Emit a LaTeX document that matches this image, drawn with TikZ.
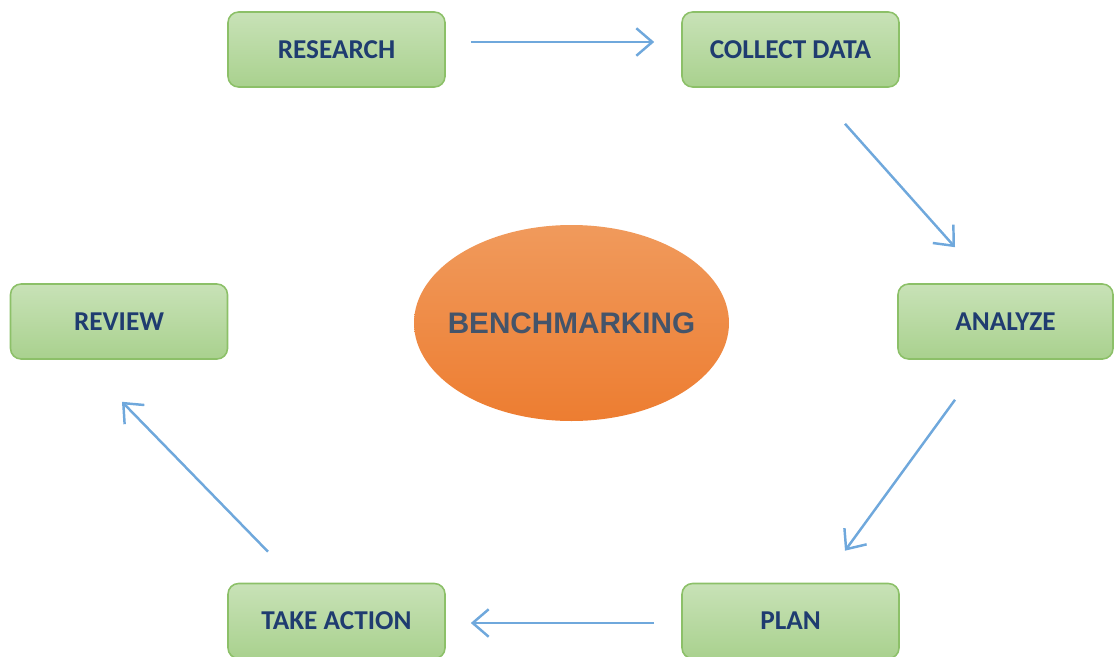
\documentclass[tikz,border=0pt]{standalone}
\usepackage{fontspec}
\usetikzlibrary{shapes.geometric,arrows.meta}
\newfontfamily\boxfont{Carlito}
\newfontfamily\hubfont{Liberation Sans}
\definecolor{bmgreentop}{HTML}{C8E2B7}
\definecolor{bmgreenbot}{HTML}{A9D18E}
\definecolor{bmgreenline}{HTML}{8CC068}
\definecolor{bmtext}{HTML}{1F3C70}
\definecolor{bmorangetop}{HTML}{F09A5C}
\definecolor{bmorangebot}{HTML}{ED7D31}
\definecolor{bmhubtext}{HTML}{44546A}
\definecolor{bmarrow}{HTML}{6FA8DC}

\begin{document}
\begin{tikzpicture}[
    stagebox/.style={rectangle, draw=bmgreenline, line width=0.9pt, top color=bmgreentop, bottom color=bmgreenbot,
        rounded corners=6pt, minimum width=4.34cm, minimum height=1.5cm,
        text=bmtext, font=\boxfont\fontsize{15.5}{18}\selectfont\bfseries},
    flow/.style={-{Straight Barb[length=3.2mm,width=5.5mm,line width=1.4pt]}, line width=1.4pt, bmarrow}
]
    \useasboundingbox (0,0) rectangle (22.28,13.12);

    % Centre
    \node[ellipse, inner sep=0pt, top color=bmorangetop, bottom color=bmorangebot, minimum width=6.3cm, minimum height=3.92cm,
        text=bmhubtext, font=\hubfont\fontsize{16.9}{20}\selectfont\bfseries] (bench) at (11.43,6.66)
        {\makebox[3cm]{BENCHMARKING}};

    % Stages
    \node[stagebox] (research) at (6.73,12.13) {RESEARCH};
    \node[stagebox] (collect) at (15.81,12.13) {COLLECT DATA};
    \node[stagebox, minimum width=4.3cm] (analyze) at (20.11,6.69) {ANALYZE};
    \node[stagebox] (plan) at (15.81,0.70) {PLAN};
    \node[stagebox] (action) at (6.73,0.70) {TAKE ACTION};
    \node[stagebox] (review) at (2.38,6.69) {REVIEW};

    % Cycle
    \draw[flow] ([xshift=0.5cm,yshift=0.15cm]research.east) -- ([xshift=-0.54cm,yshift=0.15cm]collect.west);
    \draw[flow] ([xshift=1.09cm,yshift=-0.72cm]collect.south) -- ([xshift=-1.01cm,yshift=0.72cm]analyze.north);
    \draw[flow] ([xshift=-1.01cm,yshift=-0.8cm]analyze.south) -- ([xshift=1.09cm,yshift=0.64cm]plan.north);
    \draw[flow] ([xshift=-0.54cm,yshift=-0.04cm]plan.west) -- ([xshift=0.5cm,yshift=-0.04cm]action.east);
    \draw[flow] ([xshift=-1.37cm,yshift=0.62cm]action.north) -- ([xshift=0.06cm,yshift=-0.84cm]review.south);
\end{tikzpicture}
\end{document}
